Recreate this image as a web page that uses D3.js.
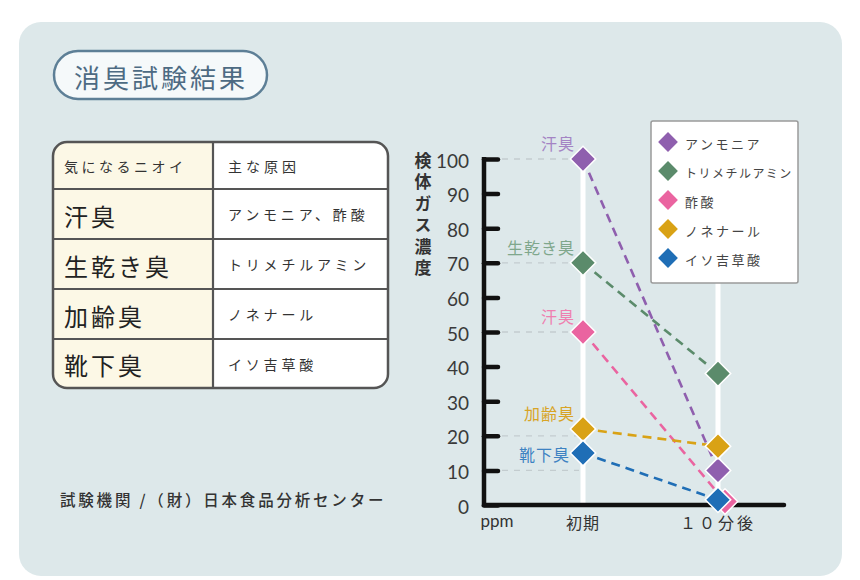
<!DOCTYPE html>
<html><head><meta charset="utf-8">
<script src="https://cdn.jsdelivr.net/npm/d3@7"></script>
<style>body{margin:0;background:#fff;}svg{display:block;font-family:"Noto Sans CJK JP","Noto Sans",sans-serif;}</style>
</head><body>
<svg id="c" width="860" height="580"></svg>
<script>
// ---- data ----
const categories = ["初期", "１０分後"];
const seriesNames = ["アンモニア", "トリメチルアミン", "酢酸", "ノネナール", "イソ吉草酸"];
const odorLabels = ["汗臭", "生乾き臭", "汗臭", "加齢臭", "靴下臭"];
const ammonia = [100, 10];
const trimethylamine = [70, 38];
const aceticAcid = [50, 1];
const nonenal = [22, 17];
const isovaleric = [15, 1.5];
const yTicks = [0, 10, 20, 30, 40, 50, 60, 70, 80, 90, 100];
const gridValues = [100, 70, 50, 20, 10];
const tableHeader = ["気になるニオイ", "主な原因"];
const tableOdors = ["汗臭", "生乾き臭", "加齢臭", "靴下臭"];
const tableCauses = ["アンモニア、酢酸", "トリメチルアミン", "ノネナール", "イソ吉草酸"];
const titleText = "消臭試験結果";
const yTitle = "検体ガス濃度";
const unitText = "ppm";
const footerText = "試験機関 /（財）日本食品分析センター";

const seriesValues = [ammonia, trimethylamine, aceticAcid, nonenal, isovaleric];
const colors = ["#8f5fae", "#5b8b6b", "#ea64a0", "#d9a215", "#1f6eb6"];
const labelColors = ["#a484c4", "#7fa78c", "#ef80b0", "#d8a426", "#3d82c2"];

const svg = d3.select("#c");
// panel
svg.append("rect").attr("x", 19).attr("y", 22).attr("width", 823).attr("height", 554)
  .attr("rx", 22).attr("fill", "#dde8ea");

// title pill
svg.append("rect").attr("x", 54).attr("y", 51).attr("width", 213).attr("height", 48)
  .attr("rx", 24).attr("fill", "#f5f9fa").attr("stroke", "#5d7f96").attr("stroke-width", 2.5);
svg.append("text").attr("x", 161).attr("y", 76).attr("text-anchor", "middle")
  .attr("dominant-baseline", "central").attr("font-size", 26).attr("letter-spacing", 3)
  .attr("fill", "#4d6b83").text(titleText);

// table
const tX = 53, tY = 142, tW = 335, tH = 246, colX = 213;
const rowEdges = [142, 189, 239, 289, 339, 388];
const defs = svg.append("defs");
defs.append("clipPath").attr("id", "tclip").append("rect")
  .attr("x", tX).attr("y", tY).attr("width", tW).attr("height", tH).attr("rx", 14);
const tg = svg.append("g");
tg.append("rect").attr("clip-path", "url(#tclip)").attr("x", tX).attr("y", tY)
  .attr("width", colX - tX).attr("height", tH).attr("fill", "#fcf8e6");
tg.append("rect").attr("clip-path", "url(#tclip)").attr("x", colX).attr("y", tY)
  .attr("width", tX + tW - colX).attr("height", tH).attr("fill", "#ffffff");
rowEdges.slice(1, -1).forEach(y => {
  tg.append("line").attr("x1", tX).attr("x2", tX + tW).attr("y1", y).attr("y2", y)
    .attr("stroke", "#555").attr("stroke-width", 2.2);
});
tg.append("line").attr("x1", colX).attr("x2", colX).attr("y1", tY).attr("y2", tY + tH)
  .attr("stroke", "#555").attr("stroke-width", 2.2);
tg.append("rect").attr("x", tX).attr("y", tY).attr("width", tW).attr("height", tH)
  .attr("rx", 14).attr("fill", "none").attr("stroke", "#555").attr("stroke-width", 2.5);
const mid = i => (rowEdges[i] + rowEdges[i + 1]) / 2;
tg.append("text").attr("x", 64).attr("y", mid(0)).attr("dominant-baseline", "central")
  .attr("font-size", 14).attr("fill", "#333").attr("letter-spacing", 3.5).text(tableHeader[0]);
tg.append("text").attr("x", 228).attr("y", mid(0)).attr("dominant-baseline", "central")
  .attr("font-size", 14).attr("fill", "#333").attr("letter-spacing", 4).text(tableHeader[1]);
tableOdors.forEach((t, i) => {
  tg.append("text").attr("x", 64).attr("y", mid(i + 1) + 1).attr("dominant-baseline", "central")
    .attr("font-size", 24).attr("fill", "#222").attr("letter-spacing", 3).text(t);
  tg.append("text").attr("x", 228).attr("y", mid(i + 1)).attr("dominant-baseline", "central")
    .attr("font-size", 14).attr("fill", "#333").attr("letter-spacing", 3.8).text(tableCauses[i]);
});

// footer
svg.append("text").attr("x", 60).attr("y", 499).attr("dominant-baseline", "central")
  .attr("font-size", 15.5).attr("fill", "#333").attr("font-weight", 500).attr("letter-spacing", 2.8)
  .text(footerText);

// chart scales
const y = d3.scaleLinear().domain([0, 100]).range([505, 159]);
const x = d3.scalePoint().domain(categories).range([583, 718]);
const axisX = 484;

// white vertical guides
categories.forEach(c => {
  svg.append("line").attr("x1", x(c)).attr("x2", x(c)).attr("y1", y(100)).attr("y2", y(0))
    .attr("stroke", "#ffffff").attr("stroke-width", 5);
});
// dashed grid
gridValues.forEach(v => {
  svg.append("line").attr("x1", axisX + 18).attr("x2", x(categories[0]) - 4)
    .attr("y1", y(v)).attr("y2", y(v)).attr("stroke", "#c3cccf").attr("stroke-width", 1.3)
    .attr("stroke-dasharray", "6,6");
});

// y axis via d3.axisRight (ticks pointing into plot)
const yAxis = svg.append("g").attr("transform", `translate(${axisX},0)`)
  .call(d3.axisRight(y).tickValues(yTicks).tickSize(14).tickFormat(""));
yAxis.select(".domain").remove();
yAxis.selectAll(".tick line").attr("stroke", "#111").attr("stroke-width", 4.5).attr("stroke-linecap", "round");
svg.append("line").attr("x1", axisX).attr("x2", axisX).attr("y1", y(100) - 2).attr("y2", y(0) + 2)
  .attr("stroke", "#111").attr("stroke-width", 4.5);
// tick labels
yTicks.forEach(v => {
  svg.append("text").attr("x", 469).attr("y", y(v) + 1).attr("text-anchor", "end")
    .attr("dominant-baseline", "central").attr("font-family", "Lato, 'Noto Sans', sans-serif")
    .attr("font-size", 19).attr("fill", "#3a3a3a").text(v);
});
// x axis line
svg.append("line").attr("x1", axisX).attr("x2", 784).attr("y1", y(0)).attr("y2", y(0))
  .attr("stroke", "#111").attr("stroke-width", 4.5).attr("stroke-linecap", "round");
// category labels
categories.forEach((c, i) => {
  svg.append("text").attr("x", x(c)).attr("y", 522).attr("text-anchor", "middle")
    .attr("dominant-baseline", "central").attr("font-size", 16).attr("fill", "#333")
    .attr("letter-spacing", i === 1 ? 3 : 1).text(c);
});
svg.append("text").attr("x", 497).attr("y", 520).attr("text-anchor", "middle")
  .attr("dominant-baseline", "central").attr("font-family", "Lato, 'Noto Sans', sans-serif")
  .attr("font-size", 17).attr("fill", "#333").text(unitText);
// y title vertical (single text, vertical writing mode)
svg.append("text").attr("x", 423).attr("y", 152)
  .style("writing-mode", "vertical-rl").style("text-orientation", "upright")
  .attr("font-size", 17).attr("font-weight", 700).attr("letter-spacing", 4.5)
  .attr("fill", "#333").text(yTitle);

// series
const nudge = [0, 0, 7, 0, 0]; // small horizontal nudge so overlapping diamonds stay visible
const line = d3.line().x(d => d.x).y(d => d.y);
const drawOrder = [2, 0, 1, 3, 4];
drawOrder.forEach(si => {
  const pts = seriesValues[si].map((v, j) => ({ x: x(categories[j]) + (j === 1 ? nudge[si] : 0), y: y(v) }));
  svg.append("path").attr("d", line(pts)).attr("fill", "none").attr("stroke", colors[si])
    .attr("stroke-width", 2.6).attr("stroke-dasharray", "9,6");
});
drawOrder.forEach(si => {
  seriesValues[si].forEach((v, j) => {
    const px = x(categories[j]) + (j === 1 ? nudge[si] : 0);
    svg.append("rect").attr("x", -9).attr("y", -9).attr("width", 18).attr("height", 18)
      .attr("transform", `translate(${px},${y(v)}) rotate(45)`)
      .attr("fill", colors[si]).attr("stroke", "#ffffff").attr("stroke-width", 1.5);
  });
});
// odor labels near 初期 points
seriesValues.forEach((vals, si) => {
  const last = si === seriesValues.length - 1;
  svg.append("text").attr("x", x(categories[0]) - (last ? 13 : 8))
    .attr("y", y(vals[0]) - (last ? -1 : 16)).attr("text-anchor", "end")
    .attr("dominant-baseline", "central").attr("font-size", 16).attr("letter-spacing", 1)
    .attr("fill", labelColors[si]).text(odorLabels[si]);
});

// legend
const lg = svg.append("g");
lg.append("rect").attr("x", 651).attr("y", 121).attr("width", 147).attr("height", 162)
  .attr("fill", "#ffffff").attr("stroke", "#9a9a9a").attr("stroke-width", 1.5).attr("rx", 2);
seriesNames.forEach((n, i) => {
  const cy = 142 + i * 29;
  lg.append("rect").attr("x", -7).attr("y", -7).attr("width", 14).attr("height", 14)
    .attr("transform", `translate(668,${cy}) rotate(45)`).attr("fill", colors[i]);
  lg.append("text").attr("x", 685).attr("y", cy + 1).attr("dominant-baseline", "central")
    .attr("font-size", i === 1 ? 12 : 13).attr("letter-spacing", i === 1 ? 1.5 : 2.5)
    .attr("fill", "#444").text(n);
});
</script>
</body></html>
